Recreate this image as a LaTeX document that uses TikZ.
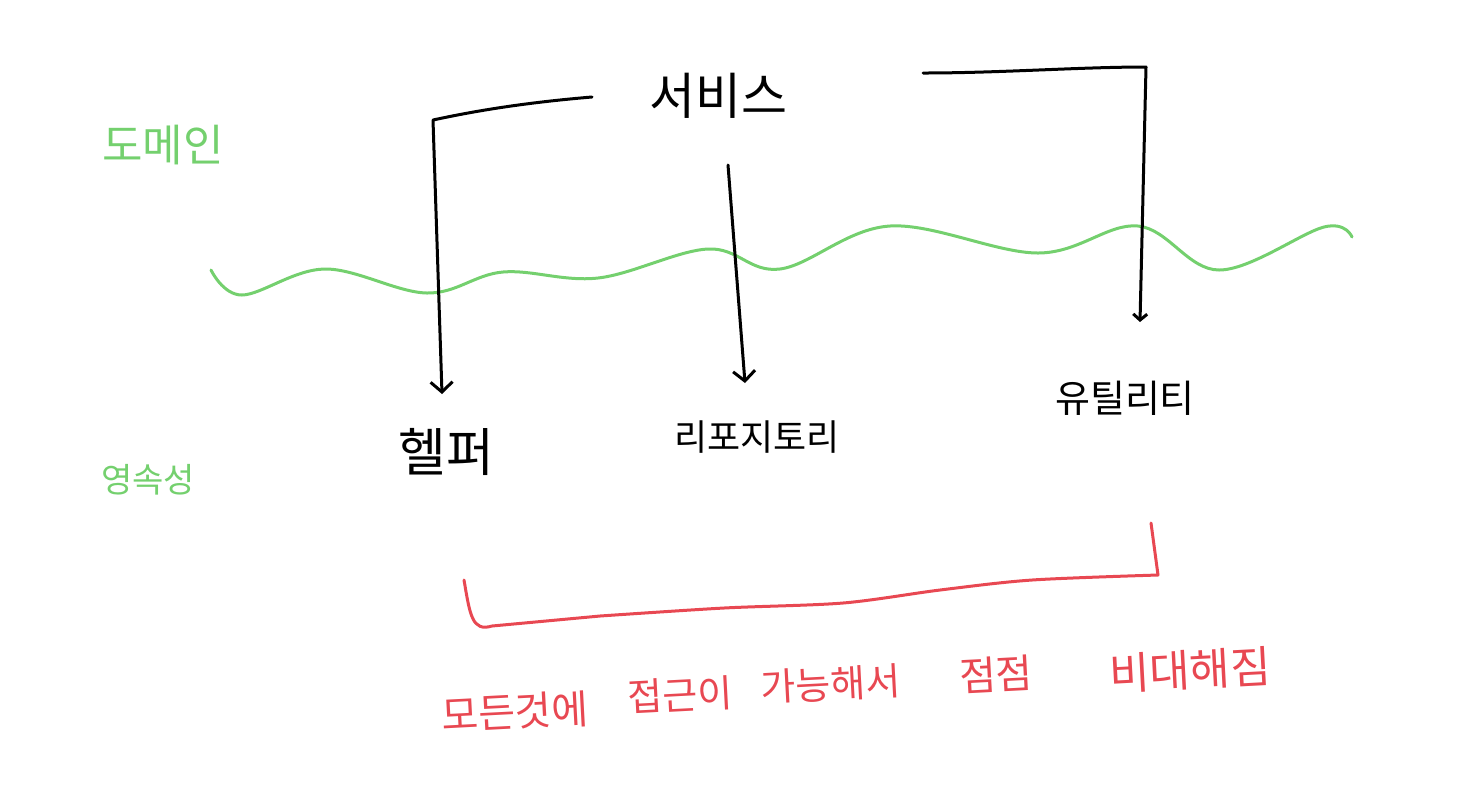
\documentclass[tikz,border=0pt]{standalone}
\usepackage{fontspec}
\newfontfamily\krfont{Noto Sans CJK KR}
\usetikzlibrary{arrows.meta}
\definecolor{layergreen}{RGB}{116,208,110}
\definecolor{warnred}{RGB}{232,72,82}
\tikzset{
  ktext/.style={font=\krfont\fontsize{#1}{#1}\selectfont, inner sep=0pt},
  pen/.style={line width=1.5pt, line cap=round, line join=round},
  dep/.style={pen, -{Straight Barb[length=5pt,width=11pt]}},
}

\begin{document}
\begin{tikzpicture}[x=0.5pt,y=-0.5pt]
\useasboundingbox (0,0) rectangle (1482,784);
\node[ktext=25pt] (svc) at (718,96) {서비스};
\node[ktext=22pt, text=layergreen] (dom) at (163,145) {도메인};
\node[ktext=17pt, text=layergreen] (pers) at (148,480) {영속성};
\node[ktext=26pt] (helper) at (446,452) {헬퍼};
\node[ktext=18pt] (repo) at (757,437) {리포지토리};
\node[ktext=19pt] (util) at (1125,398) {유틸리티};

\coordinate (hStart) at (592,97);
\coordinate (hCorner) at (433,120);
\coordinate (hTip) at (442,394);
\coordinate (rStart) at (728,165);
\coordinate (rTip) at (745,383);
\coordinate (uStart) at (923,73);
\coordinate (uCorner) at (1146,67);
\coordinate (uTip) at (1140,322);

\draw[pen, layergreen] plot[smooth, tension=0.6] coordinates {(211,270) (242,295) (325,269) (427,293) (503,272) (598,278) (708,249) (780,269) (890,226) (1038,253) (1138,226) (1219,270) (1324,227) (1352,237)};

\draw[dep] (hStart) .. controls (520,103) and (470,112) .. (hCorner) -- (hTip);
\draw[dep] (rStart) -- (rTip);
\draw[pen, -{Straight Barb[length=3pt,width=7pt]}] (uStart) .. controls (1000,73) and (1080,67) .. (uCorner) -- (uTip);

\draw[pen, warnred] (464,580) .. controls (470,615) and (472,632) .. (492,626) -- plot[smooth, tension=0.5] coordinates {(600,616) (724,608) (843,603) (940,590) (1032,580) (1158,575)} -- (1151,523);

\node[ktext=20pt, text=warnred, rotate=3] (w1) at (515,712) {모든것에};
\node[ktext=19pt, text=warnred, rotate=3] (w2) at (680,695) {접근이};
\node[ktext=19pt, text=warnred, rotate=3] (w3) at (831,684) {가능해서};
\node[ktext=20pt, text=warnred, rotate=3] (w4) at (996,674) {점점};
\node[ktext=22pt, text=warnred, rotate=3] (w5) at (1190,670) {비대해짐};
\end{tikzpicture}
\end{document}
